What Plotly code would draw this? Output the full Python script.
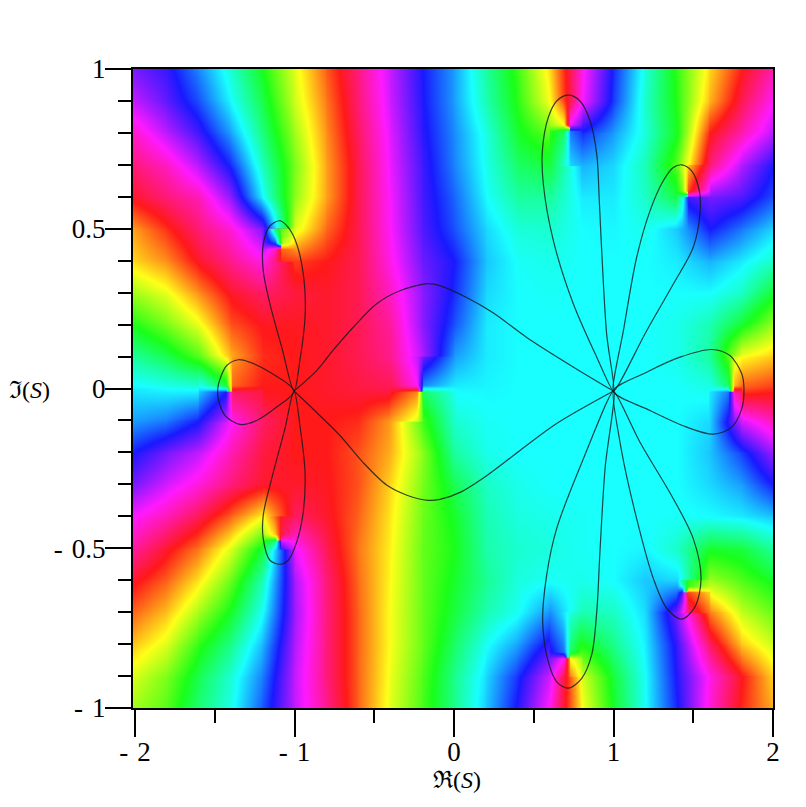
import colorsys
import plotly.graph_objects as go

# Hue (degrees) at each grid node, top row first.
x_nodes = [-2.0, -1.8, -1.6, -1.4, -1.2, -1.0, -0.8, -0.6, -0.4, -0.2, 0.0,
           0.2, 0.4, 0.6, 0.8, 1.0, 1.2, 1.4, 1.6, 1.8, 2.0]
y_nodes = [1.0, 0.9, 0.8, 0.7, 0.6, 0.5, 0.4, 0.3, 0.2, 0.1, 0.0,
           -0.1, -0.2, -0.3, -0.4, -0.5, -0.6, -0.7, -0.8, -0.9, -1.0]
hue_rows = [
    [265,247,210,168,120,67,17,332,285,240,205,155,110,50,305,235,170,112,50,0,320],
    [285,258,225,180,132,73,24,335,287,242,205,160,115,60,300,230,165,115,40,345,300],
    [315,282,250,204,145,85,30,340,292,245,210,172,125,100,235,205,170,120,0,320,280],
    [335,315,280,235,162,95,35,345,295,250,212,175,140,130,200,190,160,100,335,280,240],
    [355,335,318,270,180,90,35,345,298,252,220,180,155,155,185,185,165,130,265,255,225],
    [35,5,335,310,265,70,20,345,300,255,225,190,170,168,180,182,175,195,240,215,190],
    [50,30,355,330,305,10,0,345,305,262,240,195,178,175,180,180,180,185,200,185,165],
    [85,65,30,355,340,350,355,345,315,270,235,190,180,178,180,180,180,180,180,165,125],
    [120,95,65,15,358,358,355,345,325,270,225,185,180,180,180,180,180,175,160,125,85],
    [155,135,105,40,5,0,355,345,330,280,205,185,180,180,180,180,180,175,155,60,45],
    [185,180,178,90,0,0,355,350,345,180,182,182,180,180,180,180,180,180,175,15,5],
    [205,215,240,300,340,0,0,5,35,110,168,178,180,180,180,180,180,180,190,290,320],
    [240,265,285,320,350,0,0,15,40,90,155,175,180,180,180,180,180,180,195,230,275],
    [265,290,310,335,355,355,358,15,50,95,135,165,175,180,180,180,180,180,190,205,240],
    [300,320,345,20,60,340,355,20,55,98,125,160,172,175,178,180,180,178,180,185,195],
    [325,355,25,70,130,295,345,25,58,100,120,158,168,172,178,180,182,165,125,130,155],
    [355,20,55,100,163,278,336,22,60,100,125,152,172,178,175,180,195,190,85,105,125],
    [20,45,85,125,180,275,335,20,62,100,130,160,178,210,160,165,190,270,25,75,100],
    [45,70,115,150,200,280,335,20,62,100,140,178,205,250,120,150,185,250,340,45,75],
    [70,95,135,170,215,285,335,20,65,105,150,190,235,290,70,130,180,245,305,358,50],
    [85,105,145,175,225,285,330,20,68,108,150,195,245,305,60,125,180,240,310,3,40],
]

# Finer hue readings around the nine points where all hues meet: x nodes, y nodes, hues.
patch_a_x = [-1.2, -1.123, -1.083, -1.0]
patch_a_y = [0.5, 0.457, 0.437, 0.4]
patch_a_hue = [[265, 135, 105, 70], [260, 225, 85, 50], [285, 315, 20, 30], [305, 335, 5, 10]]
patch_b_x = [-1.2, -1.123, -1.083, -1.0]
patch_b_y = [-0.4, -0.456, -0.476, -0.5]
patch_b_hue = [[60, 20, 355, 340], [85, 45, 345, 320], [115, 145, 290, 305], [130, 185, 250, 295]]
patch_c_x = [0.6, 0.688, 0.728, 0.8]
patch_c_y = [0.9, 0.826, 0.806, 0.7]
patch_c_hue = [[60, 10, 345, 300], [85, 60, 295, 260], [115, 140, 215, 235], [130, 170, 190, 200]]
patch_d_x = [0.6, 0.688, 0.728, 0.8]
patch_d_y = [-0.7, -0.824, -0.844, -0.9]
patch_d_hue = [[210, 185, 170, 160], [245, 215, 140, 105], [265, 305, 60, 85], [290, 350, 25, 70]]
patch_e_x = [1.4, 1.428, 1.468, 1.6]
patch_e_y = [0.7, 0.619, 0.599, 0.5]
patch_e_hue = [[100, 75, 45, 335], [115, 100, 10, 290], [145, 165, 250, 265], [195, 200, 210, 240]]
patch_f_x = [1.4, 1.428, 1.468, 1.6]
patch_f_y = [-0.6, -0.618, -0.638, -0.7]
patch_f_hue = [[190, 150, 115, 85], [200, 175, 110, 75], [225, 255, 10, 50], [270, 295, 335, 25]]
patch_g_x = [-1.6, -1.431, -1.391, -1.2]
patch_g_y = [0.1, 0.01, -0.01, -0.1]
patch_g_hue = [[105, 55, 35, 5], [178, 130, 20, 0], [195, 240, 340, 350], [240, 285, 305, 340]]
patch_h_x = [-0.4, -0.233, -0.193, 0.0]
patch_h_y = [0.1, 0.01, -0.01, -0.1]
patch_h_hue = [[330, 285, 262, 205], [345, 300, 210, 185], [355, 30, 140, 175], [35, 70, 110, 168]]
patch_i_x = [1.6, 1.717, 1.757, 1.8]
patch_i_y = [0.1, 0.01, -0.01, -0.1]
patch_i_hue = [[155, 105, 70, 60], [175, 140, 40, 20], [185, 215, 320, 340], [190, 245, 270, 290]]

# Curves where the lobes and arcs run in axis units.
arc_upper_x = [-1.003,-0.861,-0.759,-0.633,-0.483,-0.339,-0.163,-0.088,0.082,0.245,0.458,0.752,1.0]
arc_upper_y = [-0.008,0.056,0.119,0.191,0.266,0.306,0.328,0.322,0.284,0.237,0.159,0.066,-0.008]
arc_lower_x = [-1.003,-0.861,-0.715,-0.571,-0.42,-0.295,-0.163,-0.088,0.038,0.207,0.414,0.646,1.0]
arc_lower_y = [-0.008,-0.075,-0.147,-0.231,-0.303,-0.334,-0.35,-0.347,-0.325,-0.272,-0.194,-0.109,-0.008]
lobe_nw_x = [-1.003,-0.966,-0.934,-0.94,-0.986,-1.039,-1.091,-1.154,-1.196,-1.196,-1.154,-1.08,-1.003]
lobe_nw_y = [-0.008,0.088,0.223,0.338,0.452,0.504,0.525,0.509,0.452,0.369,0.265,0.129,-0.008]
lobe_sw_x = [-1.003,-0.966,-0.934,-0.945,-0.986,-1.039,-1.091,-1.154,-1.196,-1.196,-1.143,-1.06,-1.003]
lobe_sw_y = [-0.008,-0.116,-0.262,-0.387,-0.48,-0.5375,-0.55,-0.5375,-0.47,-0.397,-0.282,-0.126,-0.008]
lobe_w_x = [-1.003,-1.154,-1.279,-1.352,-1.425,-1.467,-1.481,-1.478,-1.436,-1.342,-1.237,-1.112,-1.003]
lobe_w_y = [-0.008,0.051,0.082,0.09,0.072,0.03,0.0,-0.032,-0.084,-0.1125,-0.1,-0.058,-0.008]
lobe_n_x = [1.0,0.895,0.748,0.623,0.56,0.554,0.591,0.644,0.717,0.79,0.853,0.895,0.911,0.926,0.957,1.0]
lobe_n_y = [-0.008,0.098,0.265,0.4625,0.64,0.744,0.848,0.9,0.918,0.9,0.8375,0.733,0.5875,0.431,0.171,-0.008]
lobe_ne_x = [1.0,1.066,1.145,1.229,1.312,1.375,1.428,1.49,1.538,1.542,1.5,1.375,1.208,1.0]
lobe_ne_y = [-0.008,0.192,0.41,0.556,0.65,0.692,0.7,0.681,0.619,0.546,0.442,0.327,0.181,-0.008]
lobe_e_x = [1.0,1.208,1.417,1.616,1.73,1.804,1.818,1.804,1.741,1.626,1.459,1.229,1.0]
lobe_e_y = [-0.008,0.051,0.098,0.122,0.103,0.046,0.0,-0.063,-0.121,-0.143,-0.121,-0.069,-0.008]
lobe_se_x = [1.0,1.166,1.375,1.5,1.549,1.511,1.428,1.334,1.25,1.145,1.052,1.0]
lobe_se_y = [-0.008,-0.168,-0.345,-0.47,-0.595,-0.683,-0.722,-0.688,-0.595,-0.407,-0.199,-0.008]
lobe_s_x = [1.0,0.811,0.644,0.581,0.556,0.591,0.644,0.717,0.801,0.863,0.895,0.915,0.947,1.0]
lobe_s_y = [-0.008,-0.22,-0.438,-0.584,-0.73,-0.855,-0.918,-0.938,-0.907,-0.834,-0.699,-0.512,-0.251,-0.008]

x_major = [-2, -1, 0, 1, 2]
x_major_text = ["-\u200a 2", "-\u200a 1", "0", "1", "2"]
x_minor = [-1.5, -0.5, 0.5, 1.5]
y_major = [-1, -0.5, 0, 0.5, 1]
y_major_text = ["-\u200a 1", "-\u200a 0.5", "0", "0.5", "1"]
y_minor = [-0.9, -0.8, -0.7, -0.6, -0.4, -0.3, -0.2, -0.1, 0.1, 0.2, 0.3, 0.4, 0.6, 0.7, 0.8, 0.9]

FONT = "Liberation Serif, serif"
ZMIN, ZMAX = -900, 1260


def hue_colour(h):
    r, g, b = colorsys.hsv_to_rgb((h % 360) / 360, 0.9, 1.0)
    return f"rgb({round(r*255)},{round(g*255)},{round(b*255)})"


colorscale = [[(h - ZMIN) / (ZMAX - ZMIN), hue_colour(h)] for h in range(ZMIN, ZMAX + 1, 60)]


def near(base, h):
    """Same hue as h, on the turn of the hue circle closest to base."""
    return base + ((h - base + 180) % 360 - 180)


def cell_z(a, b, c, d):
    """Corner hues to the 3x3 brick values that make plotly's 'best' smoothing
    reach the corner hues exactly at the cell's edges (its bricks sit at -.5, .5, 1.5)."""
    out = []
    for s in (-0.5, 0.5, 1.5):
        row = []
        for t in (-0.5, 0.5, 1.5):
            row.append((1 - s) * ((1 - t) * a + t * b) + s * ((1 - t) * c + t * d))
        out.append(row)
    return out


fig = go.Figure()
EPS = 0.001
OVER_X, OVER_Y = 0.006, 0.003   # each cell laps one pixel over the next, to hide seams


def add_mesh(xs, ys, rows):
    for j in range(len(ys) - 1):
        for i in range(len(xs) - 1):
            a = rows[j][i]
            b = near(a, rows[j][i + 1])
            c = near(a, rows[j + 1][i])
            d = near(a, rows[j + 1][i + 1])
            x0, x1 = xs[i], xs[i + 1] + OVER_X
            if x0 == -2.0:
                x0 = -2.0125
            y0, y1 = ys[j], ys[j + 1] - OVER_Y
            fig.add_trace(go.Heatmap(
                x=[x0, x0 + EPS, x1 - EPS, x1],
                y=[y0, y0 - EPS, y1 + EPS, y1],
                z=cell_z(a, b, c, d),
                zsmooth="best", zmin=ZMIN, zmax=ZMAX, colorscale=colorscale,
                showscale=False, hoverinfo="skip",
            ))


add_mesh(x_nodes, y_nodes, hue_rows)
for px_, py_, ph_ in [(patch_a_x, patch_a_y, patch_a_hue), (patch_b_x, patch_b_y, patch_b_hue),
                      (patch_c_x, patch_c_y, patch_c_hue), (patch_d_x, patch_d_y, patch_d_hue),
                      (patch_e_x, patch_e_y, patch_e_hue), (patch_f_x, patch_f_y, patch_f_hue),
                      (patch_g_x, patch_g_y, patch_g_hue), (patch_h_x, patch_h_y, patch_h_hue),
                      (patch_i_x, patch_i_y, patch_i_hue)]:
    add_mesh(px_, py_, ph_)

curves = [(arc_upper_x, arc_upper_y), (arc_lower_x, arc_lower_y), (lobe_nw_x, lobe_nw_y),
          (lobe_sw_x, lobe_sw_y), (lobe_w_x, lobe_w_y), (lobe_n_x, lobe_n_y),
          (lobe_ne_x, lobe_ne_y), (lobe_e_x, lobe_e_y), (lobe_se_x, lobe_se_y),
          (lobe_s_x, lobe_s_y)]
for cx, cy in curves:
    fig.add_trace(go.Scatter(x=cx, y=cy, mode="lines", hoverinfo="skip", showlegend=False,
                             line=dict(color="rgba(15,25,30,0.8)", width=1.2,
                                       shape="spline", smoothing=0.9)))

axis_common = dict(showgrid=False, zeroline=False, showline=True, mirror=True,
                   linecolor="black", linewidth=2, ticks="outside", tickcolor="black",
                   tickwidth=1.5, tickfont=dict(family=FONT, size=27, color="black"))
fig.update_layout(
    width=806, height=807, margin=dict(l=125, r=41, t=61, b=107),
    paper_bgcolor="white", plot_bgcolor="white", showlegend=False,
    xaxis=dict(range=[-2.0125, 2.0], tickmode="array", tickvals=x_major, ticktext=x_major_text,
               ticklen=27, ticklabelstandoff=-8,
               minor=dict(tickmode="array", tickvals=x_minor, ticks="outside", ticklen=13,
                          tickwidth=1.5, tickcolor="black"),
               **axis_common),
    yaxis=dict(range=[-1.0, 1.0], tickmode="array", tickvals=y_major, ticktext=y_major_text,
               ticklen=26, ticklabelstandoff=-6,
               minor=dict(tickmode="array", tickvals=y_minor, ticks="outside", ticklen=13,
                          tickwidth=1.5, tickcolor="black"),
               **axis_common),
    annotations=[
        dict(text="ℜ(<i>S</i>)", xref="paper", yref="paper", x=0.506, y=-0.1125, showarrow=False,
             xanchor="center", yanchor="middle", font=dict(family=FONT, size=24, color="black")),
        dict(text="ℑ(<i>S</i>)", xref="paper", yref="paper", x=-0.161, y=0.497, showarrow=False,
             xanchor="center", yanchor="middle", font=dict(family=FONT, size=24, color="black")),
    ],
)
fig.write_html("out.html")
